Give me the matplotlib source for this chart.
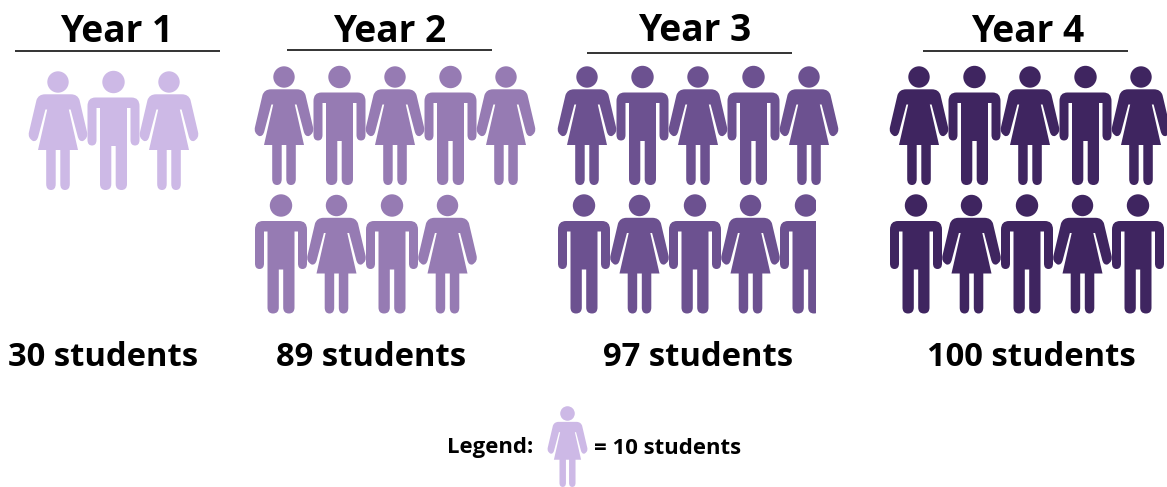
"""Pictogram of students per year, one figure = 10 students."""

import matplotlib
matplotlib.use("Agg")
import matplotlib.pyplot as plt
from matplotlib.patches import Circle, PathPatch, Rectangle
from matplotlib.path import Path

YEARS = ["Year 1", "Year 2", "Year 3", "Year 4"]
STUDENTS = [30, 89, 97, 100]
COUNT_LABELS = ["30 students", "89 students", "97 students", "100 students"]
# how much of the last figure is drawn; the source rounds 89 up to a whole one
LAST_ICON_FILL = [1.0, 1.0, 0.7, 1.0]
COLORS = ["#CDB9E6", "#967BB3", "#6C5190", "#3F2560"]
STUDENTS_PER_ICON = 10

# layout, in reference pixels
PER_ROW = 5
STEP_X = 55.5
HEAD_Y = [(82, None), (77, 205.5), (77, 205.5), (77, 205.5)]
FIRST_X = [(58, None), (284, 281), (587, 584), (919, 916)]
TITLE_X = [116.5, 389.5, 695, 1028]
TITLE_Y = [32, 32, 31, 32]
RULE_X = [(15, 220), (287, 492), (587, 792), (923, 1128)]
RULE_Y = [51, 50, 53, 51]
COUNT_X = [103, 371, 698, 1031]

FONT = "Open Sans"

# right half of each outline, relative to head centre: (code, x, y)
# a curve takes two entries, control point then end point
L, Q = Path.LINETO, Path.CURVE3
WOMAN_HALF = [
    (L, 13, 12.3), (Q, 19.5, 12.3), (Q, 21.5, 18), (L, 29, 50), (Q, 30.5, 56), (Q, 25, 59),
    (Q, 21, 60), (Q, 19.6, 54), (L, 12.6, 27.5), (L, 10.8, 27.5), (L, 20, 68), (L, 11.8, 68),
    (L, 11.8, 102), (Q, 11.8, 108), (Q, 7, 108), (Q, 2.3, 108), (Q, 2.3, 102), (L, 2.3, 68),
]
MAN_HALF = [
    (L, 18, 15.5), (Q, 26, 15.5), (Q, 26, 24), (L, 26, 58), (Q, 26, 63.5), (Q, 21.5, 63.5),
    (Q, 17, 63.5), (Q, 17, 58), (L, 17, 26), (L, 13.5, 26), (L, 13.5, 102), (Q, 13.5, 108),
    (Q, 8, 108), (Q, 2.2, 108), (Q, 2.2, 102), (L, 2.2, 64),
]
WOMAN_HEAD_R = 10.7
MAN_HEAD_R = 11.2


def outline(half):
    """Mirror a right-half outline into one closed path."""
    top = (0, half[0][2])
    bottom = (0, half[-1][2])
    points = [top] + [(x, y) for _, x, y in half]
    kinds = [L] + [c for c, _, _ in half]

    verts = list(points) + [bottom]
    codes = [Path.MOVETO] + kinds[1:] + [L]

    verts.append((-points[-1][0], points[-1][1]))
    codes.append(L)
    j = len(points) - 1
    while j > 0:
        if kinds[j] == Q:
            verts.append((-points[j - 1][0], points[j - 1][1]))
            verts.append((-points[j - 2][0], points[j - 2][1]))
            codes.extend([Q, Q])
            j -= 2
        else:
            verts.append((-points[j - 1][0], points[j - 1][1]))
            codes.append(L)
            j -= 1
    verts.append(top)
    codes.append(Path.CLOSEPOLY)
    return verts, codes


def draw_icon(ax, x, y, is_woman, color, scale=1.0, fill=1.0):
    """Draw one figure with its head centre at x, y; fill crops it from the right."""
    half = WOMAN_HALF if is_woman else MAN_HALF
    radius = WOMAN_HEAD_R if is_woman else MAN_HEAD_R
    verts, codes = outline(half)
    verts = [(x + vx * scale, y + vy * scale) for vx, vy in verts]
    body = PathPatch(Path(verts, codes), facecolor=color, edgecolor="none")
    head = Circle((x, y), radius * scale, facecolor=color, edgecolor="none")
    ax.add_patch(body)
    ax.add_patch(head)
    if fill < 1.0:
        width = max(p[1] for p in half) * 2 * scale
        clip = Rectangle((x - width / 2, y - 20), width * fill, 160, transform=ax.transData)
        body.set_clip_path(clip)
        head.set_clip_path(clip)


def main():
    fig = plt.figure(figsize=(11.67, 4.87), dpi=100)
    ax = fig.add_axes([0, 0, 1, 1])
    ax.set_xlim(0, 1167)
    ax.set_ylim(487, 0)
    ax.axis("off")

    for i, year in enumerate(YEARS):
        ax.text(TITLE_X[i], TITLE_Y[i], year, fontsize=26.7, fontweight="bold", family=FONT,
                ha="center", va="center", color="black")
        ax.plot(RULE_X[i], [RULE_Y[i]] * 2, color="#333333", lw=1.4, solid_capstyle="butt")
        ax.text(COUNT_X[i], 357, COUNT_LABELS[i], fontsize=23.6, fontweight="bold", family=FONT,
                ha="center", va="center", color="black")

        n_icons = -(-STUDENTS[i] // STUDENTS_PER_ICON)
        for k in range(n_icons):
            row, col = divmod(k, PER_ROW)
            x = FIRST_X[i][row] + col * STEP_X
            fill = LAST_ICON_FILL[i] if k == n_icons - 1 else 1.0
            draw_icon(ax, x, HEAD_Y[i][row], k % 2 == 0, COLORS[i], fill=fill)

    draw_icon(ax, 567.5, 413.5, True, COLORS[0], scale=0.68)
    ax.text(447, 448, "Legend:", fontsize=15.9, fontweight="bold", family=FONT,
            ha="left", va="center", color="black")
    ax.text(594, 449, "= 10 students", fontsize=15.9, fontweight="bold", family=FONT,
            ha="left", va="center", color="black")

    fig.savefig("out.png", dpi=100)
    plt.close(fig)


if __name__ == "__main__":
    main()
